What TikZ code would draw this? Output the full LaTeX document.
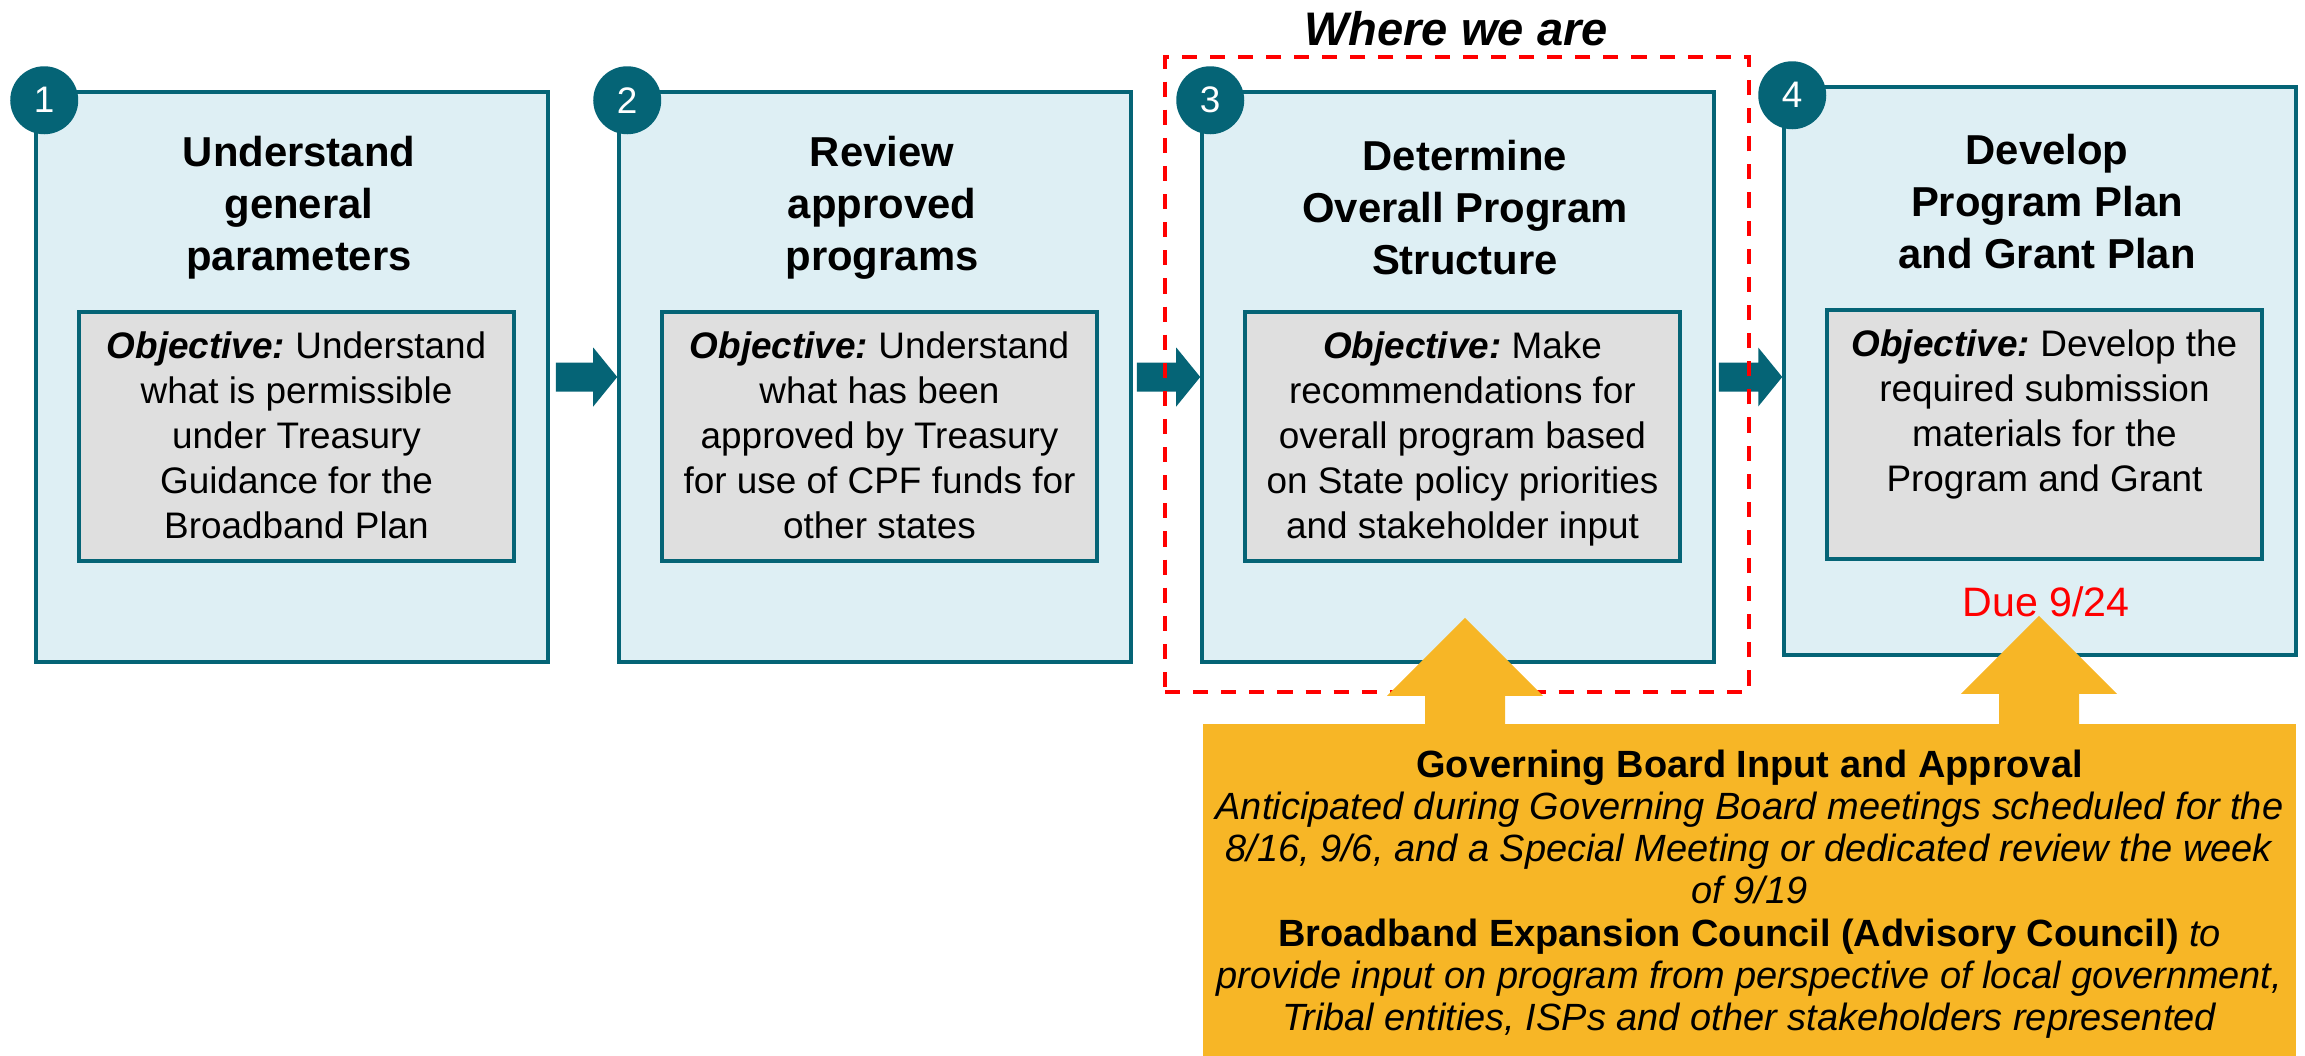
\documentclass[tikz,border=0pt]{standalone}
\usepackage{fontspec}
\setmainfont{Liberation Sans}
\usetikzlibrary{positioning}
\frenchspacing

\definecolor{stepteal}{RGB}{5,100,118}
\definecolor{boxblue}{RGB}{222,239,244}
\definecolor{objgray}{RGB}{223,223,223}
\definecolor{govgold}{RGB}{247,182,38}
\definecolor{nowred}{RGB}{255,0,0}

\tikzset{
  stepbox/.style={draw = stepteal, line width=1pt, fill = boxblue, minimum width=5.12cm, minimum height=5.70cm, inner sep=0},
  objbox/.style={draw = stepteal, line width=1pt, fill = objgray, minimum width=4.35cm, minimum height=2.49cm, inner sep=0},
  numdot/.style={circle, fill = stepteal, text = white, minimum size=0.68cm, inner sep=0, font=\fontsize{10.5}{12}\selectfont},
  steptitle/.style={align=center, inner sep=0, font=\bfseries\fontsize{11.9}{14.8}\selectfont},
  objtext/.style={align=center, inner sep=0, anchor=north, font=\fontsize{10.5}{12.8}\selectfont},
  flowarrow/.style={fill = stepteal},
  inputarrow/.style={fill = govgold}
}

\begin{document}
\begin{tikzpicture}

\useasboundingbox (0,0) rectangle (23.05,-10.56);

% Step boxes
\node[stepbox] (b1) at (2.92,-3.77) {};
\node[stepbox] (b2) at (8.75,-3.77) {};
\node[stepbox] (b3) at (14.58,-3.77) {};
\node[stepbox, minimum height=5.68cm] (b4) at (20.40,-3.71) {};

% Number circles
\node[numdot] (n1) at ([shift={(0.1,-0.1)}]b1.north west) {1};
\node[numdot] (n2) at ([shift={(0.1,-0.1)}]b2.north west) {2};
\node[numdot] (n3) at ([shift={(0.1,-0.1)}]b3.north west) {3};
\node[numdot] (n4) at ([shift={(0.1,-0.1)}]b4.north west) {4};

% Titles
\node[steptitle] (t1) at ([shift={(0.07,1.69)}]b1.center) {Understand\\general\\parameters};
\node[steptitle] (t2) at ([shift={(0.07,1.69)}]b2.center) {Review\\approved\\programs};
\node[steptitle] (t3) at ([shift={(0.07,1.69)}]b3.center) {Determine\\Overall Program\\Structure};
\node[steptitle] (t4) at ([shift={(0.07,1.69)}]b4.center) {Develop\\Program Plan\\and Grant Plan};

% Objective boxes
\node[objbox] (o1) at ([shift={(0.045,-0.595)}]b1.center) {};
\node[objbox] (o2) at ([shift={(0.045,-0.595)}]b2.center) {};
\node[objbox] (o3) at ([shift={(0.045,-0.595)}]b3.center) {};
\node[objbox] (o4) at ([shift={(0.045,-0.635)}]b4.center) {};
\node[objtext] (x1) at ([yshift=-0.205cm]o1.north) {{\bfseries\itshape Objective:} Understand\\what is permissible\\under Treasury\\Guidance for the\\Broadband Plan};
\node[objtext] (x2) at ([yshift=-0.205cm]o2.north) {{\bfseries\itshape Objective:} Understand\\what has been\\approved by Treasury\\for use of CPF funds for\\other states};
\node[objtext] (x3) at ([yshift=-0.205cm]o3.north) {{\bfseries\itshape Objective:} Make\\recommendations for\\overall program based\\on State policy priorities\\and stakeholder input};
\node[objtext] (x4) at ([yshift=-0.205cm]o4.north) {{\bfseries\itshape Objective:} Develop the\\required submission\\materials for the\\Program and Grant};

% Flow arrows
\coordinate (tip4) at (b3.east -| b4.west);
\fill[flowarrow] ([shift={(0.06,0.145)}]b1.east) -- ([shift={(-0.24,0.145)}]b2.west) -- ++(0,0.15) -- (b2.west) -- ++(-0.24,-0.295) -- ++(0,0.15) -- ([shift={(0.06,-0.145)}]b1.east) -- cycle;
\fill[flowarrow] ([shift={(0.04,0.145)}]b2.east) -- ([shift={(-0.24,0.145)}]b3.west) -- ++(0,0.15) -- (b3.west) -- ++(-0.24,-0.295) -- ++(0,0.15) -- ([shift={(0.04,-0.145)}]b2.east) -- cycle;
\fill[flowarrow] ([shift={(0.03,0.145)}]b3.east) -- ([shift={(-0.24,0.145)}]tip4) -- ++(0,0.15) -- (tip4) -- ++(-0.24,-0.295) -- ++(0,0.15) -- ([shift={(0.03,-0.145)}]b3.east) -- cycle;

% Where we are
\node[draw = nowred, line width=1.3pt, dash pattern=on 4.3pt off 3.7pt, minimum width=5.84cm, minimum height=6.35cm, inner sep=0] (now) at (14.57,-3.745) {};
\node[above=0.08cm of now.north, xshift=-0.01cm, inner sep=0, font=\bfseries\itshape\fontsize{13.4}{15}\selectfont] (where) {Where we are};

% Governing board box
\node[fill = govgold, minimum width=10.93cm, minimum height=3.32cm, inner sep=0] (gb) at (17.495,-8.90) {};
\node[align=center, inner sep=0, font=\fontsize{10.8}{12}\selectfont] (gbtext) at ([yshift=-0.04cm]gb.center) {\textbf{Governing Board Input and Approval}\\
\textit{Anticipated during Governing Board meetings scheduled for the}\\
\textit{8/16, 9/6, and a Special Meeting or dedicated review the week}\\
\textit{of 9/19}\\
\textbf{Broadband Expansion Council (Advisory Council)} \textit{to}\\
\textit{provide input on program from perspective of local government,}\\
\textit{Tribal entities, ISPs and other stakeholders represented}};

% Input arrows
\fill[inputarrow] ([shift={(0.07,0.46)}]b3.south) -- ++(0.78,-0.78) -- ++(-0.38,0) -- ++(0,-0.36) -- ++(-0.80,0) -- ++(0,0.36) -- ++(-0.38,0) -- cycle;
\fill[inputarrow] ([shift={(-0.01,0.41)}]b4.south) -- ++(0.78,-0.78) -- ++(-0.38,0) -- ++(0,-0.36) -- ++(-0.80,0) -- ++(0,0.36) -- ++(-0.38,0) -- cycle;

\node[text = nowred, inner sep=0, font=\fontsize{11.7}{14}\selectfont] (due) at ([shift={(0.06,0.55)}]b4.south) {Due 9/24};

\end{tikzpicture}
\end{document}
